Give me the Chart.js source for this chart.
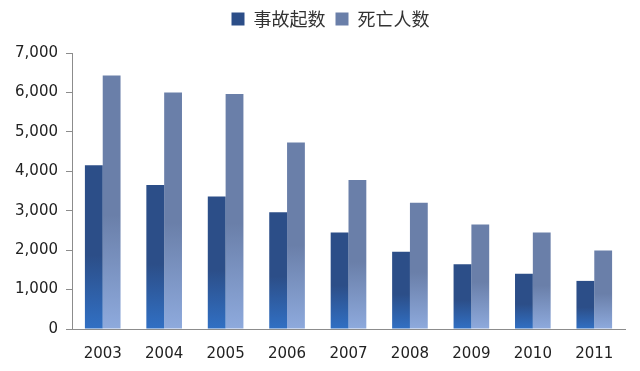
<!DOCTYPE html>
<html>
<head>
<meta charset="utf-8">
<script src="https://cdn.jsdelivr.net/npm/chart.js@4/dist/chart.umd.min.js"></script>
<style>
  html, body { margin: 0; padding: 0; background: #fff; }
  #wrap { width: 640px; height: 371px; }
</style>
</head>
<body>
<div id="wrap"><canvas id="bars"></canvas></div>
<script>
const years = ['2003', '2004', '2005', '2006', '2007', '2008', '2009', '2010', '2011'];
const accidents = [4150, 3650, 3360, 2960, 2450, 1960, 1640, 1400, 1220];
const deaths = [6430, 6000, 5960, 4730, 3780, 3200, 2650, 2450, 1990];
const seriesNames = ['事故起数', '死亡人数'];

// per-bar vertical gradient, top colour -> bottom colour
function barFill(top, bottom) {
    return function (ctx) {
        const chart = ctx.chart;
        if (ctx.type !== 'data' || !chart.chartArea) return top;
        const ys = chart.scales.y;
        const y0 = ys.getPixelForValue(ctx.raw);
        const y1 = ys.getPixelForValue(0);
        if (!isFinite(y0) || y1 - y0 < 1) return top;
        const g = chart.ctx.createLinearGradient(0, y0, 0, y1);
        g.addColorStop(0, top);
        g.addColorStop(0.55, top);
        g.addColorStop(1, bottom);
        return g;
    };
}

// extra space under the legend, and nudge it a bit to the right
const legendGap = {
    id: 'legendGap',
    beforeInit(chart) {
        const fit = chart.legend.fit;
        chart.legend.fit = function () {
            fit.bind(chart.legend)();
            this.height += 15;
        };
    },
    afterLayout(chart) {
        chart.legend.left += 18;
        chart.legend.right += 18;
    }
};

new Chart(document.getElementById('bars'), {
    type: 'bar',
    data: {
        labels: years,
        datasets: [{
            label: seriesNames[0],
            data: accidents,
            backgroundColor: barFill('#2c4e88', '#3170c4'),
            borderWidth: 0
        }, {
            label: seriesNames[1],
            data: deaths,
            backgroundColor: barFill('#6a7fa9', '#8eaadd'),
            borderWidth: 0
        }]
    },
    options: {
        responsive: true,
        maintainAspectRatio: false,
        animation: false,
        layout: { padding: { left: 0, right: 15, top: 0, bottom: 0 } },
        datasets: { bar: { categoryPercentage: 0.58, barPercentage: 1.0 } },
        plugins: {
            tooltip: { enabled: false },
            legend: {
                position: 'top',
                labels: {
                    boxWidth: 13,
                    boxHeight: 13,
                    padding: 10,
                    color: '#333',
                    font: { family: '"Noto Sans CJK SC", sans-serif', size: 18 },
                    generateLabels(chart) {
                        return chart.data.datasets.map((d, i) => ({
                            text: d.label,
                            fillStyle: i === 0 ? '#2c4e88' : '#6a7fa9',
                            strokeStyle: i === 0 ? '#2c4e88' : '#6a7fa9',
                            lineWidth: 0,
                            datasetIndex: i,
                            fontColor: '#333'
                        }));
                    }
                }
            }
        },
        scales: {
            x: {
                grid: { display: false },
                border: { color: '#8c8c8c', width: 1 },
                ticks: {
                    color: '#222',
                    padding: 8,
                    font: { family: '"DejaVu Sans", Verdana, sans-serif', size: 15 }
                }
            },
            y: {
                min: 0,
                max: 7000,
                afterFit(scale) { scale.width = 72; },
                grid: { drawOnChartArea: false, tickLength: 6, color: '#8c8c8c' },
                border: { color: '#8c8c8c', width: 1 },
                ticks: {
                    stepSize: 1000,
                    color: '#222',
                    padding: 8,
                    font: { family: '"DejaVu Sans", Verdana, sans-serif', size: 15 },
                    callback: v => v.toLocaleString('en-US')
                }
            }
        }
    },
    plugins: [legendGap]
});
</script>
</body>
</html>
